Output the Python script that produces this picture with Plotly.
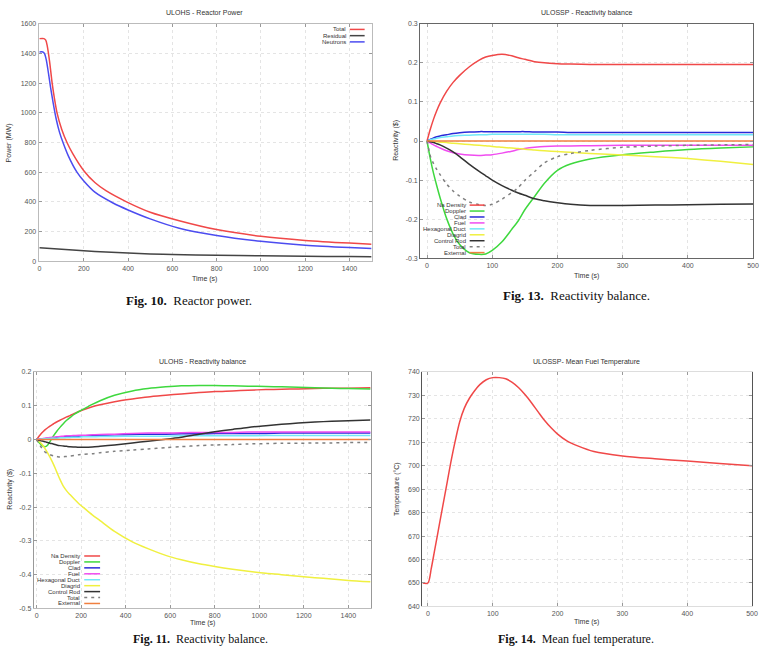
import plotly.graph_objects as go

W, H = 764, 650

# ---------------- Fig. 10 : ULOHS reactor power ----------------
t_total = [0, 20, 28, 35, 45, 57, 68, 79, 100, 124, 150, 200, 250, 300, 393, 500, 631, 800, 1000, 1200, 1400, 1500]
p_total = [1500, 1500, 1490, 1450, 1350, 1200, 1090, 1000, 890, 800, 725, 610, 530, 475, 400, 330, 273, 213, 168, 140, 122, 115]
t_residual = [0, 100, 200, 300, 400, 500, 600, 800, 1000, 1200, 1400, 1500]
p_residual = [90, 81, 70, 62, 55, 49, 45, 40, 36, 33, 31, 30]
t_neutrons = [0, 15, 22, 30, 40, 50, 60, 75, 90, 106, 130, 169, 200, 250, 332, 400, 500, 631, 800, 1000, 1200, 1400, 1500]
p_neutrons = [1410, 1410, 1400, 1360, 1270, 1170, 1080, 960, 870, 800, 710, 600, 540, 465, 392, 345, 285, 222, 173, 134, 108, 92, 86]
pow_names = ["Total", "Residual", "Neutrons"]

# ---------------- Fig. 13 : ULOSSP reactivity balance ----------------
t13 = [0, 5, 10, 15, 20, 30, 40, 50, 65, 80, 90, 100, 115, 130, 140, 150, 165, 180, 200, 220, 250, 300, 350, 400, 450, 500]
na13 = [0, 0.03, 0.056, 0.078, 0.097, 0.127, 0.15, 0.168, 0.19, 0.207, 0.215, 0.219, 0.222, 0.218, 0.213, 0.209, 0.203, 0.2, 0.198, 0.197, 0.196, 0.196, 0.196, 0.196, 0.196, 0.196]
dop13 = [0, -0.045, -0.083, -0.115, -0.145, -0.198, -0.238, -0.265, -0.286, -0.29, -0.289, -0.28, -0.258, -0.226, -0.204, -0.176, -0.142, -0.108, -0.075, -0.059, -0.046, -0.035, -0.028, -0.022, -0.018, -0.015]
clad13 = [0, 0.004, 0.008, 0.011, 0.013, 0.016, 0.019, 0.021, 0.023, 0.024, 0.024, 0.024, 0.024, 0.024, 0.024, 0.024, 0.023, 0.023, 0.023, 0.022, 0.022, 0.022, 0.022, 0.022, 0.022, 0.022]
fuel13 = [0, -0.005, -0.01, -0.014, -0.018, -0.025, -0.03, -0.033, -0.036, -0.037, -0.036, -0.035, -0.031, -0.026, -0.022, -0.019, -0.016, -0.014, -0.013, -0.013, -0.012, -0.011, -0.011, -0.011, -0.011, -0.011]
hex13 = [0, 0.003, 0.005, 0.007, 0.009, 0.011, 0.013, 0.014, 0.015, 0.016, 0.016, 0.017, 0.017, 0.017, 0.017, 0.017, 0.017, 0.017, 0.016, 0.016, 0.016, 0.016, 0.016, 0.016, 0.016, 0.016]
dia13 = [0, -0.0005, -0.001, -0.002, -0.003, -0.004, -0.006, -0.007, -0.009, -0.011, -0.012, -0.014, -0.016, -0.018, -0.019, -0.021, -0.023, -0.025, -0.027, -0.029, -0.032, -0.036, -0.04, -0.045, -0.052, -0.06]
rod13 = [0, -0.002, -0.004, -0.007, -0.01, -0.018, -0.028, -0.04, -0.06, -0.078, -0.089, -0.1, -0.114, -0.126, -0.133, -0.139, -0.148, -0.153, -0.158, -0.162, -0.165, -0.165, -0.164, -0.163, -0.162, -0.161]
tot13 = [0, -0.038, -0.058, -0.073, -0.086, -0.11, -0.128, -0.141, -0.156, -0.163, -0.165, -0.162, -0.149, -0.132, -0.119, -0.101, -0.078, -0.056, -0.04, -0.032, -0.024, -0.016, -0.013, -0.011, -0.01, -0.009]
ext13 = [0] * len(t13)

# ---------------- Fig. 11 : ULOHS reactivity balance ----------------
t11 = [0, 10, 20, 30, 40, 50, 60, 75, 90, 105, 120, 135, 150, 170, 190, 210, 250, 285, 350, 430, 500, 580, 650, 730, 800, 880, 950, 1030, 1100, 1175, 1250, 1325, 1400, 1500]
na11 = [0, 0.009, 0.017, 0.024, 0.03, 0.035, 0.04, 0.046, 0.052, 0.057, 0.062, 0.067, 0.071, 0.077, 0.083, 0.088, 0.097, 0.103, 0.112, 0.12, 0.126, 0.131, 0.135, 0.139, 0.142, 0.144, 0.146, 0.148, 0.149, 0.15, 0.151, 0.152, 0.152, 0.153]
dop11 = [0, -0.008, -0.015, -0.02, -0.021, -0.016, -0.006, 0.01, 0.024, 0.036, 0.047, 0.057, 0.065, 0.075, 0.083, 0.09, 0.104, 0.115, 0.131, 0.144, 0.151, 0.156, 0.159, 0.16, 0.16, 0.159, 0.158, 0.157, 0.156, 0.155, 0.153, 0.152, 0.151, 0.15]
clad11 = [0, 0.001, 0.002, 0.002, 0.003, 0.004, 0.004, 0.005, 0.006, 0.007, 0.008, 0.008, 0.009, 0.01, 0.01, 0.011, 0.012, 0.013, 0.014, 0.015, 0.016, 0.016, 0.017, 0.017, 0.018, 0.018, 0.018, 0.018, 0.019, 0.019, 0.019, 0.019, 0.019, 0.019]
fuel11 = [0, 0.001, 0.002, 0.003, 0.004, 0.005, 0.006, 0.007, 0.008, 0.009, 0.01, 0.011, 0.011, 0.012, 0.013, 0.013, 0.014, 0.015, 0.016, 0.018, 0.019, 0.019, 0.02, 0.021, 0.021, 0.021, 0.022, 0.022, 0.022, 0.022, 0.022, 0.022, 0.022, 0.022]
hex11 = [0, 0.001, 0.001, 0.002, 0.002, 0.003, 0.003, 0.004, 0.004, 0.005, 0.005, 0.006, 0.006, 0.007, 0.007, 0.008, 0.008, 0.009, 0.009, 0.01, 0.01, 0.01, 0.011, 0.011, 0.011, 0.011, 0.011, 0.012, 0.012, 0.012, 0.012, 0.012, 0.012, 0.012]
dia11 = [0, -0.005, -0.011, -0.019, -0.029, -0.04, -0.052, -0.072, -0.095, -0.118, -0.138, -0.152, -0.163, -0.177, -0.19, -0.201, -0.223, -0.24, -0.272, -0.303, -0.323, -0.343, -0.356, -0.368, -0.376, -0.384, -0.39, -0.396, -0.4, -0.405, -0.409, -0.413, -0.417, -0.421]
rod11 = [0, -0.002, -0.004, -0.005, -0.007, -0.009, -0.011, -0.013, -0.016, -0.018, -0.019, -0.02, -0.021, -0.022, -0.023, -0.023, -0.022, -0.02, -0.016, -0.01, -0.005, 0.001, 0.007, 0.016, 0.023, 0.03, 0.036, 0.041, 0.045, 0.049, 0.052, 0.054, 0.056, 0.058]
tot11 = [0, -0.012, -0.022, -0.031, -0.038, -0.042, -0.045, -0.048, -0.05, -0.052, -0.051, -0.05, -0.049, -0.047, -0.045, -0.044, -0.042, -0.039, -0.035, -0.031, -0.028, -0.024, -0.021, -0.018, -0.016, -0.015, -0.013, -0.012, -0.011, -0.011, -0.01, -0.01, -0.009, -0.009]
ext11 = [0] * len(t11)

react_names = ["Na Density", "Doppler", "Clad", "Fuel", "Hexagonal Duct", "Diagrid", "Control Rod", "Total", "External"]

# ---------------- Fig. 14 : ULOSSP mean fuel temperature ----------------
t14 = [-8, 0, 5, 10, 15, 20, 25, 30, 35, 42, 49, 56, 64, 72, 80, 90, 100, 110, 120, 130, 140, 150, 160, 170, 180, 190, 200, 215, 230, 256, 300, 350, 400, 450, 500]
temp14 = [650, 650, 656, 663.5, 671, 678.5, 686, 693.5, 701, 710.5, 718.8, 724.5, 728.8, 732, 734.6, 736.7, 737.6, 737.6, 737.1, 735.6, 733.3, 730.3, 726.8, 723, 719.3, 716.2, 713.5, 710.5, 708.6, 706.1, 704.2, 703, 702, 701, 700]

# tick labels
pow_y_ticks = [0, 200, 400, 600, 800, 1000, 1200, 1400, 1600]
pow_x_ticks = [0, 200, 400, 600, 800, 1000, 1200, 1400]
r13_y_ticks = [-0.3, -0.2, -0.1, 0, 0.1, 0.2, 0.3]
r13_y_text = ["-0.3", "-0.2", "-0.1", "0", "0.1", "0.2", "0.3"]
t500_ticks = [0, 100, 200, 300, 400, 500]
r11_y_ticks = [-0.5, -0.4, -0.3, -0.2, -0.1, 0, 0.1, 0.2]
r11_y_text = ["-0.5", "-0.4", "-0.3", "-0.2", "-0.1", "0", "0.1", "0.2"]
temp_y_ticks = [640, 650, 660, 670, 680, 690, 700, 710, 720, 730, 740]

# ---------------- styles ----------------
pow_colors = ["#f04848", "#444444", "#4c4cf0"]
react_colors = ["#f04848", "#3ed83e", "#2a2ad8", "#f04cf0", "#70e8f8", "#f0f040", "#333333", "#808080", "#f08040"]
react_dash = ["solid"] * 7 + ["3px,4px", "solid"]


def fx(px):
    return px / W


def fy(py):
    return 1 - py / H


fig = go.Figure()


def add_line(x, y, color, dash, xa, ya, width=1.5):
    fig.add_trace(go.Scatter(x=x, y=y, mode="lines", xaxis=xa, yaxis=ya,
                             line=dict(color=color, width=width, dash=dash, shape="spline", smoothing=0.8),
                             showlegend=False, hoverinfo="skip"))


# Fig 10
for xs, ys, c in zip([t_total, t_residual, t_neutrons], [p_total, p_residual, p_neutrons], pow_colors):
    add_line(xs, ys, c, "solid", "x", "y")

# Fig 13
for ys, c, d in zip([na13, dop13, clad13, fuel13, hex13, dia13, rod13, tot13, ext13], react_colors, react_dash):
    add_line(t13, ys, c, d, "x2", "y2")

# Fig 11
for ys, c, d in zip([na11, dop11, clad11, fuel11, hex11, dia11, rod11, tot11, ext11], react_colors, react_dash):
    add_line(t11, ys, c, d, "x3", "y3")

# Fig 14
add_line(t14, temp14, "#f04848", "solid", "x4", "y4")

tickfont = dict(family="Liberation Sans", size=7, color="#555")


def axis(domain, rng, tickvals, ticktext=None, linecolor="#bbbbbb", showline=True, mirror="ticks", anchor=None):
    d = dict(domain=domain, range=rng, tickvals=tickvals, showline=showline, linecolor=linecolor,
             linewidth=1, mirror=mirror, ticks="inside", ticklen=3, tickcolor="#999",
             showgrid=True, gridcolor="#e4e4e4", griddash="dot", gridwidth=1, zeroline=False,
             tickfont=tickfont, anchor=anchor)
    if ticktext is not None:
        d["ticktext"] = ticktext
    return d


fig.update_layout(
    width=W, height=H, margin=dict(l=0, r=0, t=0, b=0),
    paper_bgcolor="white", plot_bgcolor="white", showlegend=False,
    xaxis=axis([fx(38), fx(374)], [-4, 1500], pow_x_ticks, anchor="y"),
    yaxis=axis([fy(260), fy(20)], [0, 1600], pow_y_ticks, anchor="x"),
    xaxis2=axis([fx(423), fx(759)], [-10.6, 500], t500_ticks, linecolor="#666", anchor="y2"),
    yaxis2=axis([fy(257), fy(20)], [-0.3, 0.3], r13_y_ticks, r13_y_text, linecolor="#666", anchor="x2"),
    xaxis3=axis([fx(33), fx(373)], [-13, 1500], pow_x_ticks, anchor="y3"),
    yaxis3=axis([fy(611), fy(372)], [-0.5, 0.2], r11_y_ticks, r11_y_text, linecolor="#999", anchor="x3"),
    xaxis4=axis([fx(425), fx(758)], [-9, 500], t500_ticks, linecolor="#dddddd", anchor="y4"),
    yaxis4=axis([fy(609), fy(372)], [640, 740], temp_y_ticks, linecolor="#555", anchor="x4"),
)


def text(x, y, s, size=7, color="#333", angle=0, family="Liberation Sans", xanchor="center", yanchor="middle"):
    fig.add_annotation(x=fx(x), y=fy(y), xref="paper", yref="paper", text=s, showarrow=False,
                       textangle=angle, xanchor=xanchor, yanchor=yanchor, borderpad=0,
                       font=dict(size=size, color=color, family=family))


# titles
text(205, 9, "ULOHS - Reactor Power")
text(591, 9, "ULOSSP - Reactivity balance")
text(203, 362, "ULOHS - Reactivity balance")
text(591, 362, "ULOSSP- Mean Fuel Temperature")

# axis titles
text(9, 140, "Power (MW)", angle=-90)
text(205, 278, "Time (s)")
text(398, 138, "Reactivity ($)", angle=-90)
text(591, 275, "Time (s)")
text(9, 490, "Reactivity ($)", angle=-90)
text(203, 626, "Time (s)")
text(399, 490, "Temperature (°C)", angle=-90)
text(591, 625, "Time (s)")

# captions
serif = "Liberation Serif"
text(190, 300, "<b>Fig. 10.</b>  Reactor power.", size=13, color="#111", family=serif)
text(581, 295, "<b>Fig. 13.</b>  Reactivity balance.", size=13, color="#111", family=serif)
text(201, 650, "<b>Fig. 11.</b>  Reactivity balance.", size=12, color="#111", family=serif, yanchor="bottom")
text(580, 650, "<b>Fig. 14.</b>  Mean fuel temperature.", size=12, color="#111", family=serif, yanchor="bottom")


# legends (gnuplot style: label then line sample)
def add_legend(names, colors, dashes, x_right, y_top, step, line_len):
    for i, (n, c, d) in enumerate(zip(names, colors, dashes)):
        y = y_top + i * step
        fig.add_annotation(x=fx(x_right), y=fy(y), xref="paper", yref="paper", text=n, showarrow=False,
                           xanchor="right", yanchor="middle", borderpad=0,
                           font=dict(size=6, color="#333", family="Liberation Sans"))
        fig.add_shape(type="line", xref="paper", yref="paper", x0=fx(x_right + 3), x1=fx(x_right + 3 + line_len),
                      y0=fy(y), y1=fy(y), line=dict(color=c, width=1.5, dash=d))


add_legend(pow_names, pow_colors, ["solid"] * 3, 349, 25.7, 6.3, 15)
add_legend(react_names, react_colors, react_dash, 470, 203.3, 6, 15)
add_legend(react_names, react_colors, react_dash, 81, 558, 6, 16)

fig.write_html("out.html")
